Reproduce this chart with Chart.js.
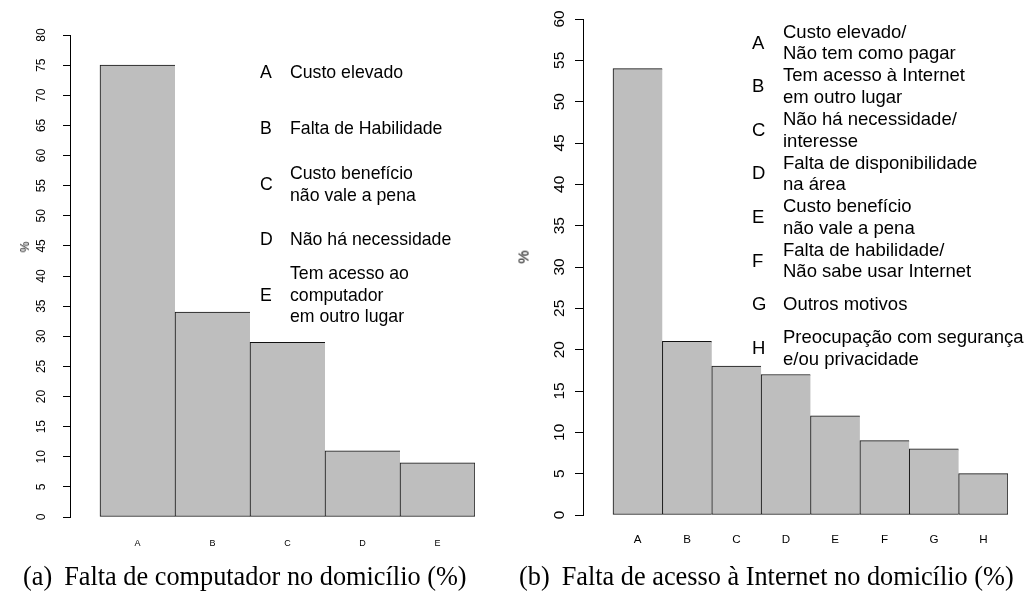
<!DOCTYPE html>
<html>
<head>
<meta charset="utf-8">
<script src="https://cdn.jsdelivr.net/npm/chart.js@4/dist/chart.umd.min.js"></script>
<style>
  html, body { margin: 0; padding: 0; background: #fff; }
  #page { position: relative; width: 1026px; height: 592px; overflow: hidden;
          font-family: "Liberation Sans", Arial, sans-serif; color: #000; }
  .panel { position: absolute; top: 0; width: 513px; height: 592px; }
  .panel canvas { position: absolute; left: 0; top: 0; }
  .key { position: absolute; display: flex; align-items: center;
         transform: translateY(-50%); white-space: nowrap; }
  .key .k { flex: none; }
  .ylab { position: absolute; white-space: nowrap; line-height: 1;
          transform: translate(-50%, -50%) rotate(-90deg); }
  .caption { position: absolute; top: 564px; white-space: nowrap; line-height: 26px;
             font-family: "Liberation Serif", "Times New Roman", serif; font-size: 26.3px; }
</style>
</head>
<body>
<div id="page">
  <div class="panel" style="left:0"><canvas id="grafA" width="513" height="592"></canvas></div>
  <div class="panel" style="left:513px"><canvas id="grafB" width="513" height="592"></canvas></div>
</div>
<script>
// (a) Falta de computador no domicílio
const categoriasA = ['A', 'B', 'C', 'D', 'E'];
const valoresA = [75, 34, 29, 11, 9];
const motivosA = [
  ['Custo elevado'],
  ['Falta de Habilidade'],
  ['Custo benefício', 'não vale a pena'],
  ['Não há necessidade'],
  ['Tem acesso ao', 'computador', 'em outro lugar']
];
const ticksA = [0, 5, 10, 15, 20, 25, 30, 35, 40, 45, 50, 55, 60, 65, 70, 75, 80];

// (b) Falta de acesso à Internet no domicílio
const categoriasB = ['A', 'B', 'C', 'D', 'E', 'F', 'G', 'H'];
const valoresB = [54, 21, 18, 17, 12, 9, 8, 5];
const motivosB = [
  ['Custo elevado/', 'Não tem como pagar'],
  ['Tem acesso à Internet', 'em outro lugar'],
  ['Não há necessidade/', 'interesse'],
  ['Falta de disponibilidade', 'na área'],
  ['Custo benefício', 'não vale a pena'],
  ['Falta de habilidade/', 'Não sabe usar Internet'],
  ['Outros motivos'],
  ['Preocupação com segurança', 'e/ou privacidade']
];
const ticksB = [0, 5, 10, 15, 20, 25, 30, 35, 40, 45, 50, 55, 60];

const legendas = ['(a)', '(b)'];
const titulos = ['Falta de computador no domicílio (%)', 'Falta de acesso à Internet no domicílio (%)'];
const eixoY = '%';

const FONT = 'Liberation Sans';

function desenhaPainel(id, cats, vals, yTicks, s) {
  const last = vals.length - 1;
  return new Chart(document.getElementById(id), {
    type: 'bar',
    data: {
      datasets: [{
        data: vals.map((v, i) => ({ x: i + 1, y: v })),
        backgroundColor: '#bebebe',
        borderColor: '#111',
        borderSkipped: false,
        borderWidth: c => c.dataIndex === last ? 1 : { top: 1, left: 1, bottom: 1, right: 0 },
        barPercentage: 1,
        categoryPercentage: 1
      }]
    },
    options: {
      responsive: false,
      animation: false,
      devicePixelRatio: 1,
      layout: { padding: { left: 0, top: s.top, right: s.right, bottom: 0 } },
      plugins: { legend: { display: false }, tooltip: { enabled: false } },
      scales: {
        x: {
          type: 'linear', min: s.xMin, max: s.xMax, offset: false,
          afterBuildTicks: sc => { sc.ticks = cats.map((c, i) => ({ value: i + 1 })); },
          afterFit: sc => { sc.height = s.xHeight; },
          grid: { display: false, drawTicks: false, offset: false },
          border: { display: false },
          ticks: {
            autoSkip: false, maxRotation: 0, padding: s.xPad, color: '#000',
            font: { family: FONT, size: s.xFont },
            callback: v => cats[Math.round(v) - 1] ?? ''
          }
        },
        y: {
          type: 'linear', min: 0, max: yTicks[yTicks.length - 1],
          afterBuildTicks: sc => { sc.ticks = yTicks.map(v => ({ value: v })); },
          afterFit: sc => { sc.width = s.yWidth; },
          grid: { drawOnChartArea: false, drawTicks: true, tickLength: s.tick, color: '#000', lineWidth: 1 },
          border: { display: true, color: '#000', width: 1 },
          ticks: {
            minRotation: 90, maxRotation: 90, crossAlign: 'center', padding: s.yPad,
            color: '#000', font: { family: FONT, size: s.yFont }
          }
        }
      }
    }
  });
}

desenhaPainel('grafA', categoriasA, valoresA, ticksA, {
  top: 35, right: 38, xHeight: 75, yWidth: 70, xMin: 0.1, xMax: 5.5,
  xPad: 21, xFont: 9, tick: 7, yPad: 15, yFont: 12
});
desenhaPainel('grafB', categoriasB, valoresB, ticksB, {
  top: 19, right: 18, xHeight: 77, yWidth: 70, xMin: -0.1076, xMax: 8.5,
  xPad: 18, xFont: 11.6, tick: 8, yPad: 7, yFont: 15.5
});

// Key text beside the bars: letter + description, centred on each row
const page = document.getElementById('page');
function chave(cats, textos, cfg) {
  cats.forEach((c, i) => {
    const row = document.createElement('div');
    row.className = 'key';
    row.style.left = cfg.left + 'px';
    row.style.top = (cfg.y0 + i * cfg.step) + 'px';
    row.style.fontSize = cfg.size + 'px';
    row.style.lineHeight = cfg.lh + 'px';
    const k = document.createElement('span');
    k.className = 'k';
    k.style.width = cfg.kw + 'px';
    k.textContent = c;
    const t = document.createElement('span');
    t.innerHTML = textos[i].join('<br>');
    row.appendChild(k);
    row.appendChild(t);
    page.appendChild(row);
  });
}
chave(categoriasA, motivosA, { left: 260, y0: 73, step: 55.5, size: 17.7, lh: 21.5, kw: 30 });
chave(categoriasB, motivosB, { left: 752, y0: 42.7, step: 43.6, size: 18.5, lh: 21.7, kw: 31 });

// Rotated y-axis titles
function rotulo(x, y, size) {
  const d = document.createElement('div');
  d.className = 'ylab';
  d.style.left = x + 'px';
  d.style.top = y + 'px';
  d.style.fontSize = size + 'px';
  d.textContent = eixoY;
  page.appendChild(d);
}
rotulo(25, 247, 12);
rotulo(523, 257, 15);

// Sub-figure captions
function legenda(i, left, gap) {
  const d = document.createElement('div');
  d.className = 'caption';
  d.style.left = left + 'px';
  const a = document.createElement('span');
  a.textContent = legendas[i];
  const b = document.createElement('span');
  b.style.marginLeft = gap + 'px';
  b.textContent = titulos[i];
  d.appendChild(a);
  d.appendChild(b);
  page.appendChild(d);
}
legenda(0, 23, 12);
legenda(1, 519, 12);
</script>
</body>
</html>
